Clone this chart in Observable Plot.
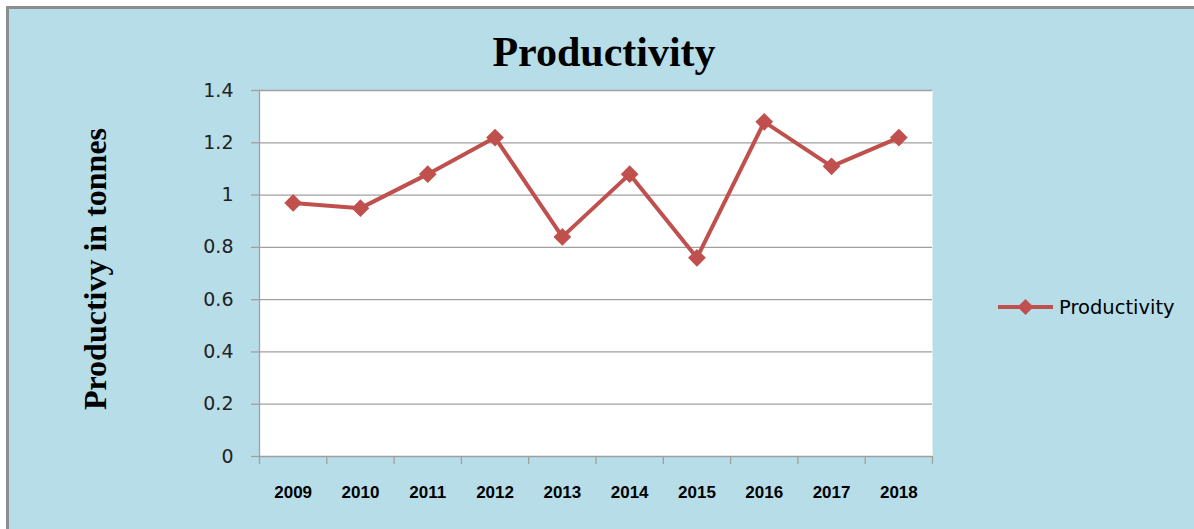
<!DOCTYPE html>
<html>
<head>
<meta charset="utf-8">
<script src="https://cdn.jsdelivr.net/npm/d3@7"></script>
<script src="https://cdn.jsdelivr.net/npm/@observablehq/plot@0.6"></script>
<style>
  html, body { margin: 0; padding: 0; background: #ffffff; }
  #wrap { position: relative; width: 1194px; height: 529px; overflow: hidden; }
  #bg { position: absolute; left: 6px; top: 6px; right: 0; bottom: 0;
        background: #b7dde8; border-left: 3px solid #8e8e8e; border-top: 3px solid #8e8e8e; }
  #chart { position: absolute; left: 0; top: 0; }
  #title { position: absolute; left: 0; width: 1208px; top: 28px; text-align: center;
           font-family: "Liberation Serif", "Times New Roman", serif; font-weight: bold; font-size: 42px; color: #000; }
  #ylabel { position: absolute; left: 95px; top: 269px; transform: translate(-50%, -50%) rotate(-90deg);
            white-space: nowrap; font-family: "Liberation Serif", "Times New Roman", serif; font-weight: bold;
            font-size: 32px; color: #000; }
  #legend { position: absolute; left: 998px; top: 292px; display: flex; align-items: center;
            font-family: "DejaVu Sans", sans-serif; font-size: 19.5px; color: #000; }
  #legend svg { margin-right: 6px; }
</style>
</head>
<body>
<div id="wrap">
  <div id="bg"></div>
  <div id="chart"></div>
  <div id="title"></div>
  <div id="ylabel"></div>
  <div id="legend"></div>
</div>
<script>
const titleText = "Productivity";
const yLabelText = "Productivy in tonnes";
const seriesName = "Productivity";
const years = [2009, 2010, 2011, 2012, 2013, 2014, 2015, 2016, 2017, 2018];
const values = [0.97, 0.95, 1.08, 1.22, 0.84, 1.08, 0.76, 1.28, 1.11, 1.22];
const yTicks = [0, 0.2, 0.4, 0.6, 0.8, 1, 1.2, 1.4];

const lineColor = "#c0504d";
const gridColor = "#a0a0a0";

const data = years.map((year, i) => ({year, value: values[i]}));
const xDomain = [d3.min(years) - 0.5, d3.max(years) + 0.5];
const boundaries = years.map(y => y - 0.5).concat([d3.max(years) + 0.5]);

const chart = Plot.plot({
  width: 1194,
  height: 529,
  marginLeft: 259,
  marginRight: 262,
  marginTop: 90,
  marginBottom: 73,
  style: {background: "transparent", overflow: "visible", color: "#000"},
  x: {type: "linear", domain: xDomain},
  y: {domain: [0, 1.4]},
  marks: [
    Plot.frame({fill: "white", stroke: null}),
    Plot.gridY(yTicks, {stroke: gridColor, strokeOpacity: 1, strokeWidth: 1.3}),
    Plot.ruleX([xDomain[0]], {stroke: gridColor, strokeWidth: 1.3}),
    Plot.axisY(yTicks, {tickSize: 8, tickPadding: 18, stroke: gridColor, strokeWidth: 1.3, label: null,
      fontSize: 19, fontFamily: "DejaVu Sans, sans-serif", fill: "#222", tickFormat: d => String(d)}),
    Plot.axisX(boundaries, {tickSize: 8, stroke: gridColor, strokeWidth: 1.3, tickFormat: () => "", label: null}),
    Plot.axisX(years, {tickSize: 0, tickPadding: 29, label: null, tickFormat: d => String(d),
      fontSize: 17, fontWeight: "bold", fontFamily: "Liberation Sans, Arial, sans-serif", fill: "#000"}),
    Plot.line(data, {x: "year", y: "value", stroke: lineColor, strokeWidth: 4}),
    Plot.dot(data, {x: "year", y: "value", symbol: "diamond2", r: 8, fill: lineColor, stroke: null})
  ]
});
document.getElementById("chart").appendChild(chart);
document.getElementById("title").textContent = titleText;
document.getElementById("ylabel").textContent = yLabelText;

const leg = document.getElementById("legend");
leg.innerHTML = `<svg width="55" height="30"><line x1="0" x2="55" y1="15" y2="15" stroke="${lineColor}" stroke-width="4"/>` +
  `<path d="M27.5,7 L35.5,15 L27.5,23 L19.5,15 Z" fill="${lineColor}"/></svg><span></span>`;
leg.querySelector("span").textContent = seriesName;
</script>
</body>
</html>
